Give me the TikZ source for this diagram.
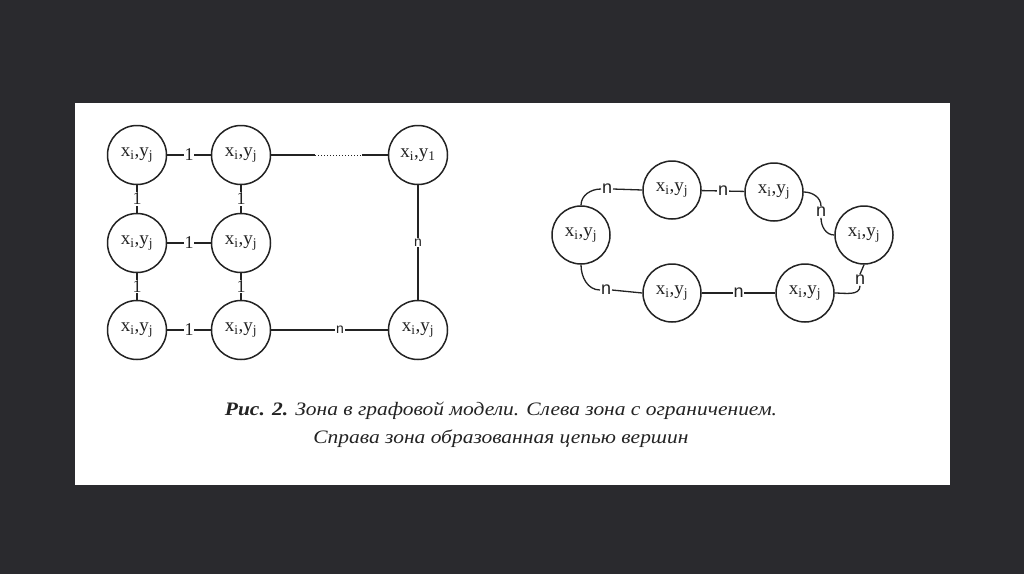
\documentclass[tikz,border=0pt]{standalone}
\usepackage{fontspec}
\setmainfont{Liberation Serif}
\newfontfamily\lsans{Liberation Sans}
\newfontfamily\capfont[FakeStretch=1.13]{Liberation Serif}
\definecolor{bgdark}{RGB}{42,42,46}
\definecolor{ink}{RGB}{35,35,35}
\begin{document}
\begin{tikzpicture}[x=1pt,y=-1pt,
  vtx/.style={circle,draw=ink,line width=1.5pt,minimum size=59pt,inner sep=0pt,
    font=\fontsize{19}{22}\selectfont,text=ink},
  edgeline/.style={draw=ink,line width=1.3pt},
  onelbl/.style={fill=white,inner sep=0.8pt,font=\fontsize{18}{20}\selectfont,text=ink},
  nlbl/.style={fill=white,inner sep=0.8pt,font=\lsans\fontsize{18}{20}\selectfont,text=ink},
  nsmall/.style={fill=white,inner sep=0.8pt,font=\lsans\fontsize{14}{16}\selectfont,text=ink},
  caption/.style={font=\capfont\itshape\fontsize{19}{22}\selectfont,text=ink,inner sep=0pt}
]
\useasboundingbox (0,0) rectangle (1024,574);
\fill[bgdark] (0,0) rectangle (1024,574);
\fill[white] (75,103) rectangle (950,485);

\newcommand{\xy}{x\textsubscript{i},y\textsubscript{j}}
% left graph
\node[vtx] (L11) at (137,155) {\xy};
\node[vtx] (L12) at (241,155) {\xy};
\node[vtx] (L13) at (418,155) {x\textsubscript{i},y\textsubscript{1}};
\node[vtx] (L21) at (137,243) {\xy};
\node[vtx] (L22) at (241,243) {\xy};
\node[vtx] (L31) at (137,330) {\xy};
\node[vtx] (L32) at (241,330) {\xy};
\node[vtx] (L33) at (418,330) {\xy};

\draw[edgeline] (L11) -- node[onelbl]{1} (L12);
\draw[edgeline] (L21) -- node[onelbl]{1} (L22);
\draw[edgeline] (L31) -- node[onelbl]{1} (L32);
\draw[edgeline] (L11) -- node[onelbl]{1} (L21);
\draw[edgeline] (L21) -- node[onelbl]{1} (L31);
\draw[edgeline] (L12) -- node[onelbl]{1} (L22);
\draw[edgeline] (L22) -- node[onelbl]{1} (L32);
\coordinate (d1) at (315,155);
\coordinate (d2) at (362,155);
\draw[edgeline] (L12) -- (d1);
\draw[edgeline,line width=1pt,dotted] (d1) -- (d2);
\draw[edgeline] (d2) -- (L13);
\draw[edgeline] (L13) -- node[nsmall]{n} (L33);
\draw[edgeline] (L32) -- node[nsmall,pos=0.59]{n} (L33);

% right graph
\node[vtx,minimum size=58pt] (A) at (581,235) {\xy};
\node[vtx,minimum size=58pt] (B) at (672,190) {\xy};
\node[vtx,minimum size=58pt] (C) at (774,192) {\xy};
\node[vtx,minimum size=58pt] (D) at (864,235) {\xy};
\node[vtx,minimum size=58pt] (E) at (805,293) {\xy};
\node[vtx,minimum size=58pt] (F) at (672,293) {\xy};

\node[nlbl] (nAB) at (607,189) {n};
\node[nlbl] (nCD) at (821,212) {n};
\node[nlbl] (nDE) at (860,280) {n};
\node[nlbl] (nFA) at (606,290) {n};

\draw[edgeline] (A.north) to[out=90,in=180] (nAB.west);
\draw[edgeline] (nAB.east) -- (B.west);
\draw[edgeline] (B) -- node[nlbl]{n} (C);
\draw[edgeline] (C.east) to[out=0,in=90] (nCD.north);
\draw[edgeline] (nCD.south) to[out=-90,in=180] (D.west);
\draw[edgeline] (D.south) -- (nDE.north);
\draw[edgeline] (nDE.south) to[out=-90,in=0] (E.east);
\draw[edgeline] (E) -- node[nlbl,pos=0.5]{n} (F);
\draw[edgeline] (A.south) to[out=-90,in=180] (nFA.west);
\draw[edgeline] (nFA.east) -- (F.west);

% caption
\node[caption,anchor=base] (cap1) at (501,415) {{\bfseries Рис. 2.} Зона в графовой модели. Слева зона с ограничением.};
\node[caption,anchor=base] (cap2) at (501,443) {Справа зона образованная цепью вершин};
\end{tikzpicture}
\end{document}
